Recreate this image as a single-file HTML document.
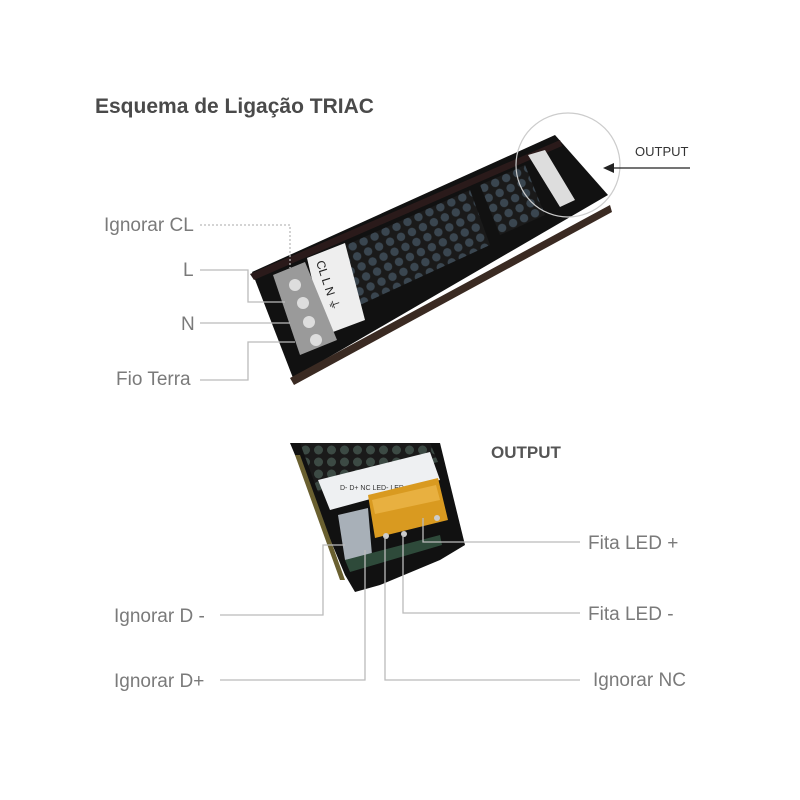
<!DOCTYPE html>
<html><head><meta charset="utf-8"><style>
body{margin:0;width:800px;height:800px;background:#fff;overflow:hidden}
svg{display:block}
text{font-family:"Liberation Sans",sans-serif}
</style></head><body>
<svg width="800" height="800" viewBox="0 0 800 800">
<defs>
<pattern id="hex" width="12" height="11" patternUnits="userSpaceOnUse" patternTransform="rotate(-24)">
<rect width="12" height="11" fill="#1a1a1a"/>
<circle cx="6" cy="5.5" r="4.2" fill="#3a4650"/>
</pattern>
<pattern id="hex2" width="13" height="12" patternUnits="userSpaceOnUse">
<rect width="13" height="12" fill="#1a1a1a"/>
<circle cx="6.5" cy="6" r="4.5" fill="#3c4a44"/>
</pattern>
</defs>
<text x="95" y="113" font-size="21" font-weight="bold" fill="#4a4a4a">Esquema de Ligação TRIAC</text>

<!-- top device -->
<polygon points="252,272 555,135 608,195 293,378" fill="#111"/>
<polygon points="250,274 560,140 562,146 254,280" fill="#2a1a1a"/>
<polygon points="290,378 610,205 612,212 294,385" fill="#3a2a22"/>
<polygon points="335,250 470,190 490,245 360,305" fill="url(#hex)"/>
<polygon points="480,185 525,165 545,215 500,235" fill="url(#hex)"/>
<polygon points="307,258 345,243 365,320 325,335" fill="#eee"/>
<text x="316" y="262" font-size="12" fill="#222" font-family="Liberation Serif" transform="rotate(72 316 262)">CL L N ⏚</text>
<polygon points="273,275 305,262 337,340 300,355" fill="#9a9a9a"/>
<circle cx="295" cy="285" r="6" fill="#ddd"/><circle cx="303" cy="303" r="6" fill="#ddd"/>
<circle cx="309" cy="322" r="6" fill="#ddd"/><circle cx="316" cy="340" r="6" fill="#ddd"/>
<polygon points="528,155 545,150 575,200 560,207" fill="#ddd"/>
<circle cx="568" cy="165" r="52" fill="none" stroke="#ccc" stroke-width="1.2"/>
<line x1="690" y1="168" x2="612" y2="168" stroke="#222" stroke-width="1.2"/>
<polygon points="603,168 614,163 614,173" fill="#222"/>
<text x="635" y="156" font-size="13" fill="#333">OUTPUT</text>

<!-- top labels & lines -->
<g font-size="19" fill="#7a7a7a">
<text x="104" y="231">Ignorar CL</text>
<text x="183" y="276">L</text>
<text x="181" y="330">N</text>
<text x="116" y="385">Fio Terra</text>
</g>
<g fill="none" stroke="#bbb" stroke-width="1.3">
<polyline points="200,225 290,225 290,268" stroke-dasharray="2,2"/>
<polyline points="200,270 248,270 248,302 285,302"/>
<line x1="200" y1="323" x2="290" y2="323"/>
<polyline points="200,380 248,380 248,342 295,342"/>
</g>

<!-- bottom device -->
<polygon points="290,443 440,443 465,545 440,560 380,585 355,592 345,575" fill="#111"/>
<polygon points="300,443 430,443 438,462 318,492" fill="url(#hex2)"/>
<polygon points="318,480 430,452 440,480 330,510" fill="#eef0f2"/>
<text x="340" y="490" font-size="7" fill="#333">D- D+ NC LED- LED+</text>
<polygon points="368,495 438,478 448,520 375,538" fill="#d99a20"/>
<polygon points="372,500 436,485 440,500 375,514" fill="#e8b040"/>
<polygon points="338,515 368,508 372,555 345,560" fill="#a8b0b8"/>
<polygon points="345,560 440,535 442,545 350,572" fill="#2e4a3a"/>
<polygon points="295,455 300,455 345,580 340,580" fill="#6a6030"/>
<circle cx="437" cy="518" r="3" fill="#ccc"/><circle cx="404" cy="534" r="3" fill="#ccc"/>
<circle cx="386" cy="536" r="3" fill="#ccc"/>
<text x="491" y="458" font-size="17" font-weight="bold" fill="#555">OUTPUT</text>

<g font-size="19" fill="#7a7a7a">
<text x="588" y="549">Fita LED +</text>
<text x="588" y="620">Fita LED -</text>
<text x="593" y="686">Ignorar NC</text>
<text x="114" y="622">Ignorar D -</text>
<text x="114" y="687">Ignorar D+</text>
</g>
<g fill="none" stroke="#bbb" stroke-width="1.3">
<polyline points="580,542 423,542 423,518"/>
<polyline points="580,613 403,613 403,535"/>
<polyline points="580,680 385,680 385,537"/>
<polyline points="220,615 323,615 323,545 345,545"/>
<polyline points="220,680 365,680 365,550"/>
</g>
</svg>
</body></html>
